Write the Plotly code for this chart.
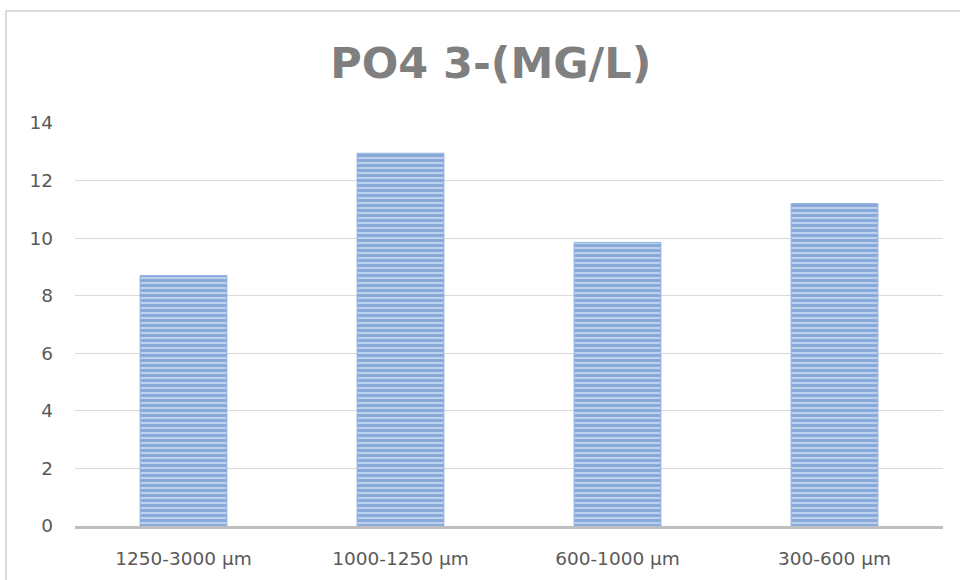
import plotly.graph_objects as go

# Phosphate concentration by particle-size fraction
categories = ["1250-3000 µm", "1000-1250 µm", "600-1000 µm", "300-600 µm"]
po4_values = [8.7, 12.95, 9.85, 11.2]
y_ticks = [0, 2, 4, 6, 8, 10, 12, 14]

fig = go.Figure()
fig.add_trace(
    go.Bar(
        x=categories,
        y=po4_values,
        width=0.4,
        marker=dict(
            color="#bcd0ee",
            line=dict(color="#8fb0df", width=1),
            pattern=dict(
                shape="-",
                size=5,
                solidity=0.55,
                fgcolor="#4d7bbf",
                fillmode="overlay",
            ),
        ),
        hoverinfo="x+y",
    )
)

fig.update_layout(
    width=960,
    height=580,
    margin=dict(l=75, r=17, t=123, b=54),
    paper_bgcolor="white",
    plot_bgcolor="white",
    showlegend=False,
    title=dict(
        text="PO4 3-(MG/L)",
        x=0.479,
        xanchor="center",
        xref="paper",
        y=1 - 63 / 580,
        yref="container",
        yanchor="middle",
        font=dict(family="DejaVu Sans", size=43, color="#7f7f7f", weight="bold"),
    ),
    font=dict(family="DejaVu Sans", color="#595959"),
)

fig.update_xaxes(
    showgrid=False,
    showline=True,
    linecolor="#bfbfbf",
    linewidth=2.5,
    ticks="",
    tickfont=dict(size=18.5, color="#595959"),
    ticklabelstandoff=14,
    fixedrange=True,
)
fig.update_yaxes(
    range=[0, 14],
    tickvals=y_ticks,
    showgrid=True,
    gridcolor="#d9d9d9",
    gridwidth=1,
    zeroline=False,
    showline=False,
    ticks="",
    tickfont=dict(size=18.5, color="#595959"),
    ticklabelstandoff=21,
    fixedrange=True,
)

# Light frame around the whole chart area
fig.add_shape(
    type="rect",
    xref="paper",
    yref="paper",
    x0=(6 - 75) / 868,
    x1=(990 - 75) / 868,
    y0=(526 - 600) / 403,
    y1=(526 - 11) / 403,
    line=dict(color="#d9d9d9", width=2),
    fillcolor="rgba(0,0,0,0)",
    layer="below",
)

fig.write_html("out.html")
